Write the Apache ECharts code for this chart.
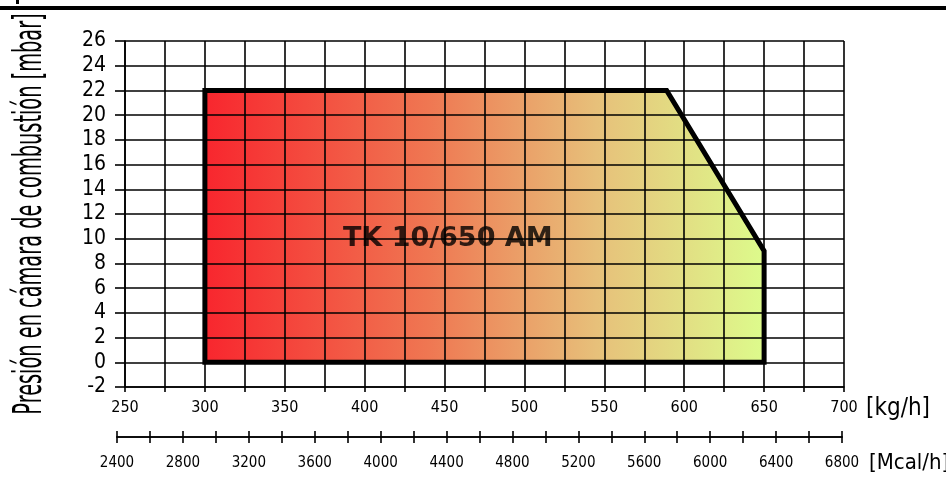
<!DOCTYPE html>
<html>
<head>
<meta charset="utf-8">
<script src="https://cdn.jsdelivr.net/npm/echarts@6/dist/echarts.min.js"></script>
<style>
html,body{margin:0;padding:0;background:#fff;}
#chart{width:946px;height:477px;}
</style>
</head>
<body>
<div id="chart"></div>
<script>
// ---- data ----
const envelopeX = [300, 300, 589, 650, 650, 300];   // kg/h
const envelopeY = [0, 22, 22, 9, 0, 0];             // mbar
const modelName = 'TK 10/650 AM';
const modelLabelAt = [452, 10];
const kgRange = [250, 700];     // kg/h axis
const kgTickStep = 25, kgLabelStep = 50;
const mcalRange = [2400, 6800]; // Mcal/h axis
const mcalTickStep = 200, mcalLabelStep = 400;
const mbarRange = [-2, 26];
const mbarStep = 2;
const yTitle = 'Presión en cámara de combustión [mbar]';
const kgUnit = '[kg/h]';
const mcalUnit = '[Mcal/h]';

const envelope = envelopeX.map((x, i) => [x, envelopeY[i]]);
const NARROW = "'DejaVu Sans Condensed','Liberation Sans Narrow',sans-serif";

const chart = echarts.init(document.getElementById('chart'), null, {renderer: 'canvas'});
const black = '#000';
chart.setOption({
  animation: false,
  backgroundColor: '#fff',
  grid: [
    {left: 125, top: 41, width: 719, height: 346, containLabel: false, outerBoundsMode: 'none'},
    {left: 117, top: 437, width: 725, height: 0, containLabel: false, outerBoundsMode: 'none'}
  ],
  xAxis: [
    {
      type: 'value', gridIndex: 0, position: 'bottom', z: 3,
      min: kgRange[0], max: kgRange[1], interval: kgTickStep,
      axisLine: {show: true, onZero: false, lineStyle: {color: black, width: 1.6}},
      axisTick: {show: true, length: 5, lineStyle: {color: black, width: 1.6}},
      splitLine: {show: true, showMinLine: true, showMaxLine: true, lineStyle: {color: black, width: 1.6}},
      axisLabel: {
        margin: 13, color: black, fontFamily: NARROW, fontSize: 16,
        formatter: v => ((v - kgRange[0]) % kgLabelStep === 0 ? String(v) : '')
      }
    },
    {
      type: 'value', gridIndex: 1, position: 'bottom',
      min: mcalRange[0], max: mcalRange[1], interval: mcalTickStep,
      axisLine: {show: true, onZero: false, lineStyle: {color: black, width: 1.6}},
      axisTick: {show: true, length: 6, lineStyle: {color: black, width: 1.6}},
      splitLine: {show: false},
      axisLabel: {
        margin: 19, color: black, fontFamily: NARROW, fontSize: 15,
        formatter: v => ((v - mcalRange[0]) % mcalLabelStep === 0 ? String(v) : '')
      }
    },
    {
      type: 'value', gridIndex: 1, position: 'top',
      min: mcalRange[0], max: mcalRange[1], interval: mcalTickStep,
      axisLine: {show: true, onZero: false, lineStyle: {color: black, width: 1.6}},
      axisTick: {show: true, length: 6, lineStyle: {color: black, width: 1.6}},
      splitLine: {show: false},
      axisLabel: {show: false}
    }
  ],
  yAxis: [
    {
      type: 'value', gridIndex: 0, z: 3,
      min: mbarRange[0], max: mbarRange[1], interval: mbarStep,
      axisLine: {show: true, onZero: false, lineStyle: {color: black, width: 1.6}},
      axisTick: {show: true, length: 10, lineStyle: {color: black, width: 1.6}},
      splitLine: {show: true, showMinLine: true, showMaxLine: true, lineStyle: {color: black, width: 1.6}},
      axisLabel: {margin: 19, color: black, fontFamily: NARROW, fontSize: 21}
    },
    {type: 'value', gridIndex: 1, show: false, min: 0, max: 1}
  ],
  series: [
    {
      type: 'line', xAxisIndex: 0, yAxisIndex: 0, z: 1,
      data: envelope, symbol: 'none', silent: true,
      lineStyle: {width: 0, opacity: 0},
      areaStyle: {
        opacity: 1,
        color: new echarts.graphic.LinearGradient(0, 0, 1, 0, [
          {offset: 0, color: '#f8262e'},
          {offset: 0.4, color: '#ef7752'},
          {offset: 0.7, color: '#e7c07a'},
          {offset: 1, color: '#ddfb8c'}
        ])
      }
    },
    {
      type: 'line', xAxisIndex: 0, yAxisIndex: 0, z: 4,
      data: envelope, symbol: 'none', silent: true,
      lineStyle: {width: 5, color: black, join: 'miter', cap: 'square'}
    },
    {
      type: 'scatter', xAxisIndex: 0, yAxisIndex: 0, z: 5,
      symbolSize: 0, silent: true,
      data: [{name: modelName, value: modelLabelAt}],
      label: {
        show: true, position: 'inside', formatter: '{b}',
        color: black, fontFamily: "'DejaVu Sans',sans-serif", fontWeight: 'bold', fontSize: 27
      }
    }
  ],
  graphic: [
    {type: 'rect', left: 0, top: 6, shape: {width: 946, height: 4}, style: {fill: black}},
    {type: 'rect', left: 16, top: 0, shape: {width: 3, height: 4}, style: {fill: black}},
    {
      type: 'text', x: 31, y: 214, rotation: Math.PI / 2, scaleY: 1.85,
      style: {text: yTitle, fill: black, font: "21.5px " + NARROW, align: 'center', verticalAlign: 'middle'}
    },
    {
      type: 'text', x: 866, y: 409,
      style: {text: kgUnit, fill: black, font: "24px " + NARROW, align: 'left', verticalAlign: 'middle'}
    },
    {
      type: 'text', x: 869, y: 463,
      style: {text: mcalUnit, fill: black, font: "22px " + NARROW, align: 'left', verticalAlign: 'middle'}
    }
  ]
});
</script>
</body>
</html>
